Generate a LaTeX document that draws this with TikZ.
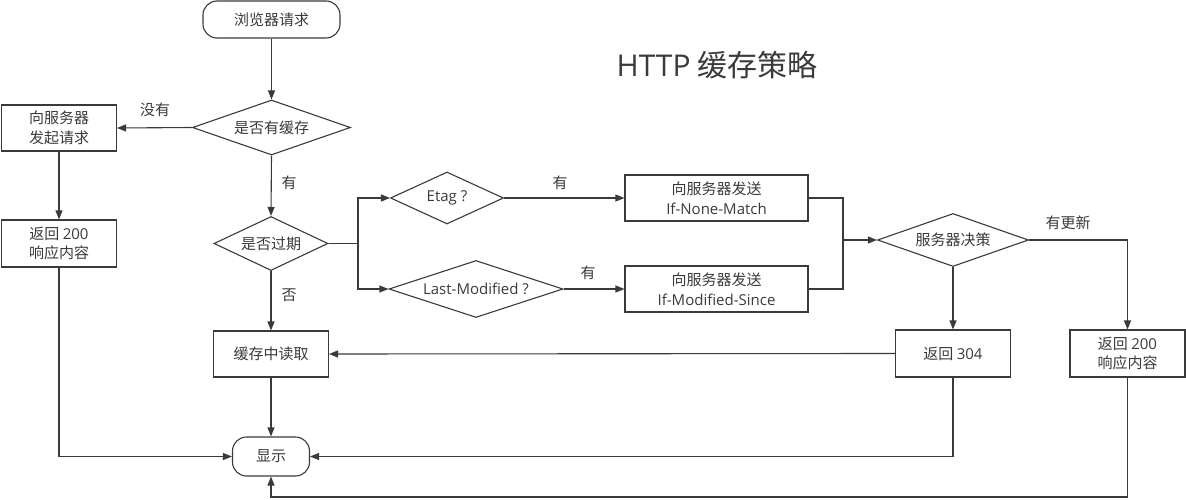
\documentclass[tikz,border=0pt]{standalone}
\usepackage{fontspec}
\setmainfont{Noto Sans CJK SC}
\newfontfamily\latin{Open Sans}
\usetikzlibrary{arrows.meta,shapes.geometric}
\definecolor{linegray}{HTML}{3A3A3A}
\tikzset{
	box/.style={draw=linegray, line width=1.1pt, rectangle, inner sep=0pt, align=center, font=\fontsize{15}{19.5}\selectfont, text=linegray},
	startend/.style={box, rounded corners=14pt},
	choice/.style={draw=linegray, line width=1.1pt, diamond, aspect=3, inner sep=0pt, align=center, font=\fontsize{15}{19.5}\selectfont, text=linegray},
	flow/.style={draw=linegray, line width=1.1pt, -{Triangle[length=9pt,width=7pt]}},
	plain/.style={draw=linegray, line width=1.1pt},
	note/.style={font=\fontsize{15}{19.5}\selectfont, text=linegray}
}
\begin{document}
\begin{tikzpicture}[x=1pt, y=-1pt]
		%%%%% START %%%%%
		\useasboundingbox (0, 0) rectangle (1186, 500);
		
		\node[font=\fontsize{30}{36}\selectfont, text=linegray] (title) at (717, 65) {{\latin HTTP} 缓存策略};
		
		\node[startend, minimum width=137pt, minimum height=37pt] (req) at (271.5, 19.5) {浏览器请求};
		\node[choice, minimum width=158pt, minimum height=55pt] (cache) at (271.5, 127.5) {是否有缓存};
		\node[box, minimum width=115pt, minimum height=46pt] (ask) at (59, 128) {向服务器\\发起请求};
		\node[box, minimum width=115pt, minimum height=47pt] (ok1) at (59, 243.5) {返回 {\latin 200}\\响应内容};
		\node[choice, minimum width=114pt, minimum height=54pt] (expired) at (271, 243.5) {是否过期};
		
		\node[choice, minimum width=113pt, minimum height=52pt] (etag) at (447, 198) {\latin Etag ?};
		\node[choice, minimum width=174pt, minimum height=57pt] (lastmod) at (476, 289) {\latin Last-Modified ?};
		\node[box, minimum width=183pt, minimum height=46pt] (inm) at (716.5, 198) {向服务器发送\\\latin If-None-Match};
		\node[box, minimum width=183pt, minimum height=46pt] (ims) at (716.5, 289) {向服务器发送\\\latin If-Modified-Since};
		
		\node[choice, minimum width=151pt, minimum height=53pt] (decide) at (953, 240) {服务器决策};
		\node[box, minimum width=115pt, minimum height=47pt] (r304) at (953, 353.5) {返回 {\latin 304}};
		\node[box, minimum width=115pt, minimum height=47pt] (r200) at (1127.5, 353.5) {返回 {\latin 200}\\响应内容};
		
		\node[box, minimum width=115pt, minimum height=46pt] (read) at (271, 354) {缓存中读取};
		\node[startend, minimum width=77pt, minimum height=39pt] (show) at (271, 456.5) {显示};
		
		\coordinate (split) at (358, 243.5);
		\coordinate (join) at (843, 240);
		\coordinate (bottom) at (1127.5, 497);
		
		\draw[flow] (req) -- (cache);
		\draw[flow] (cache.west) -- (ask.east);
		\draw[flow] (cache.south) -- (expired.north);
		\draw[flow] (ask.south) -- (ok1.north);
		\draw[plain] (expired.east) -- (split);
		\draw[flow] (split) |- (etag.west);
		\draw[flow] (split) |- (lastmod.west);
		\draw[flow] (etag.east) -- (inm.west);
		\draw[flow] (lastmod.east) -- (ims.west);
		\draw[plain] (inm.east) -| (join);
		\draw[plain] (ims.east) -| (join);
		\draw[flow] (join) -- (decide.west);
		\draw[flow] (decide.south) -- (r304.north);
		\draw[flow] (decide.east) -| (r200.north);
		\draw[flow] (r304.west) -- (read.east);
		\draw[flow] (expired.south) -- (read.north);
		\draw[flow] (read.south) -- (show.north);
		\draw[flow] (ok1.south) |- (show.west);
		\draw[flow] (r304.south) |- (show.east);
		\draw[flow] (r200.south) -- (bottom) -| (show.south);
		
		\node[note] (lno) at (155, 110) {没有};
		\node[note] (lyes) at (289, 183) {有};
		\node[note] (lnot) at (289, 295) {否};
		\node[note] (letag) at (560, 183) {有};
		\node[note] (llast) at (588, 273) {有};
		\node[note] (lnew) at (1068, 223) {有更新};
		
		%%%%% END %%%%%
	\end{tikzpicture}
\end{document}
